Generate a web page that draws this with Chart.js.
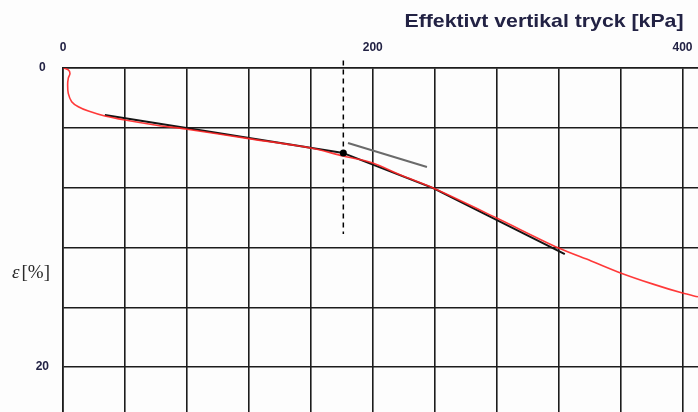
<!DOCTYPE html>
<html>
<head>
<meta charset="utf-8">
<script src="https://cdn.jsdelivr.net/npm/chart.js@4/dist/chart.umd.min.js"></script>
<style>
  html, body { margin: 0; padding: 0; background: #fdfdfd; }
  #wrap { width: 698px; height: 412px; position: relative; }
</style>
</head>
<body>
<div id="wrap"><canvas id="oedometerChart"></canvas></div>
<script>
// measured curve: effective vertical stress [kPa] vs strain [%]
const pressure = [0.5, 3.4, 4.5, 3.4, 3.0, 3.4, 5.6, 9.9, 16.4, 27, 40, 59.4, 79, 120, 160, 181, 200, 218, 239, 280, 320, 341, 360, 381, 400, 410];
const strain = [0, 0.13, 0.36, 0.69, 1.14, 1.7, 2.25, 2.59, 2.88, 3.21, 3.48, 3.81, 4.08, 4.72, 5.35, 5.89, 6.35, 7.16, 8.03, 10.03, 12.04, 12.9, 13.7, 14.45, 15.05, 15.3];

// construction lines
const fitLowX = [27, 181];
const fitLowY = [3.14, 5.69];
const fitHighX = [181, 239, 324];
const fitHighY = [5.69, 8.03, 12.44];
const tangentX = [184, 235];
const tangentY = [5.02, 6.62];

// preconsolidation pressure marker
const markX = [181];
const markY = [5.69];
const markLineY = [-0.5, 11.1];

// grid lines and labelled ticks
const xGrid = [0, 40, 80, 120, 160, 200, 240, 280, 320, 360, 400];
const yGrid = [0, 4, 8, 12, 16, 20];
const xTickLabels = [0, 200, 400];
const yTickLabels = [0, 20];
const xTitle = "Effektivt vertikal tryck [kPa]";
const yTitleSymbol = "\u03b5";
const yTitleUnit = "[%]";

function toPoints(xs, ys) {
  return xs.map(function(x, i) {
    return { x: x, y: ys[i] };
  });
}

function toTicks(values) {
  return values.map(function(v) {
    return { value: v };
  });
}

const gridColor = "#1c1c1c";
const tickColor = "#222244";

// axis titles are laid out horizontally, so draw them ourselves
const axisTitles = {
  id: "axisTitles",
  afterDraw: function(chart) {
    const ctx = chart.ctx;
    const xs = chart.scales.x;
    const ys = chart.scales.y;
    ctx.save();
    // the x title is set a bit wide
    ctx.fillStyle = tickColor;
    ctx.font = "bold 18.5px 'Liberation Sans', Arial, sans-serif";
    ctx.textAlign = "right";
    ctx.textBaseline = "middle";
    ctx.translate(xs.getPixelForValue(400) + 1, 22);
    ctx.scale(1.15, 1);
    ctx.fillText(xTitle, 0, 0);
    ctx.restore();

    ctx.save();
    const yMid = (ys.getPixelForValue(12) + ys.getPixelForValue(16)) / 2 - 4;
    ctx.fillStyle = "#2a2a2a";
    ctx.textBaseline = "middle";
    ctx.textAlign = "left";
    ctx.font = "italic 19px 'Liberation Serif', 'Times New Roman', serif";
    ctx.fillText(yTitleSymbol, 12, yMid);
    const symWidth = ctx.measureText(yTitleSymbol).width;
    ctx.font = "19px 'Liberation Serif', 'Times New Roman', serif";
    ctx.fillText(yTitleUnit, 12 + symWidth + 2, yMid);
    ctx.restore();
  }
};

const ctx = document.getElementById("oedometerChart").getContext("2d");

new Chart(ctx, {
  type: "scatter",
  data: {
    datasets: [
      {
        label: "mark",
        data: toPoints(markX, markY),
        pointRadius: 3.5,
        pointBackgroundColor: "#000",
        pointBorderWidth: 0,
        showLine: false
      },
      {
        label: "measured",
        data: toPoints(pressure, strain),
        showLine: true,
        borderColor: "rgba(255, 35, 35, 0.9)",
        borderWidth: 1.6,
        pointRadius: 0,
        tension: 0.3
      },
      {
        label: "fit low",
        data: toPoints(fitLowX, fitLowY),
        showLine: true,
        borderColor: "#151515",
        borderWidth: 2,
        pointRadius: 0
      },
      {
        label: "fit high",
        data: toPoints(fitHighX, fitHighY),
        showLine: true,
        borderColor: "#151515",
        borderWidth: 2,
        pointRadius: 0
      },
      {
        label: "tangent",
        data: toPoints(tangentX, tangentY),
        showLine: true,
        borderColor: "#6a6a6a",
        borderWidth: 2,
        pointRadius: 0
      },
      {
        label: "marker line",
        data: toPoints([markX[0], markX[0]], markLineY),
        showLine: true,
        borderColor: "#000",
        borderWidth: 1.5,
        borderDash: [5, 4],
        pointRadius: 0,
        clip: false
      }
    ]
  },
  options: {
    responsive: true,
    maintainAspectRatio: false,
    animation: false,
    layout: { padding: 0, autoPadding: false },
    plugins: {
      legend: { display: false },
      tooltip: { enabled: false }
    },
    scales: {
      x: {
        type: "linear",
        position: "top",
        min: 0,
        max: 410,
        afterBuildTicks: function(scale) {
          scale.ticks = toTicks(xGrid);
        },
        afterFit: function(scale) {
          scale.height = 68;
          scale.paddingLeft = 0;
          scale.paddingRight = 0;
        },
        ticks: {
          padding: 13,
          maxRotation: 0,
          autoSkip: false,
          color: tickColor,
          font: { family: "'Liberation Sans', Arial, sans-serif", size: 12, weight: "bold" },
          callback: function(value) {
            return xTickLabels.indexOf(value) >= 0 ? String(value) : "";
          }
        },
        grid: {
          color: gridColor,
          lineWidth: 1.6,
          drawTicks: false
        },
        border: { display: true, color: gridColor, width: 1.6 }
      },
      y: {
        type: "linear",
        reverse: true,
        min: 0,
        max: 23,
        afterBuildTicks: function(scale) {
          scale.ticks = toTicks(yGrid);
        },
        afterFit: function(scale) {
          scale.width = 63;
          scale.paddingTop = 0;
          scale.paddingBottom = 0;
        },
        ticks: {
          padding: 14,
          crossAlign: "center",
          autoSkip: false,
          color: tickColor,
          font: { family: "'Liberation Sans', Arial, sans-serif", size: 12, weight: "bold" },
          callback: function(value) {
            return yTickLabels.indexOf(value) >= 0 ? String(value) : "";
          }
        },
        grid: {
          color: gridColor,
          lineWidth: 1.6,
          drawTicks: false
        },
        border: { display: true, color: gridColor, width: 1.6 }
      }
    }
  },
  plugins: [axisTitles]
});
</script>
</body>
</html>
